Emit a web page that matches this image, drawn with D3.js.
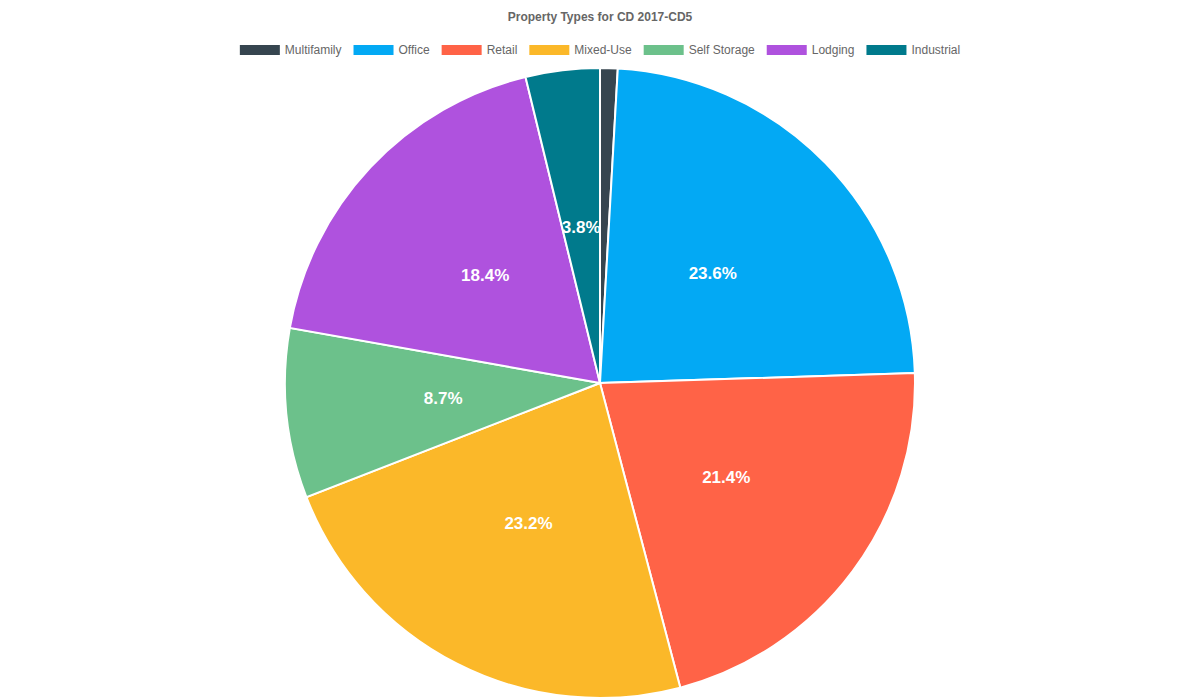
<!DOCTYPE html>
<style>
body {
  margin: 0;
  background: #fff;
}
svg {
  display: block;
  font-family: "Liberation Sans", Arial, Helvetica, sans-serif;
}
.title {
  font-size: 12px;
  font-weight: bold;
  fill: #666;
}
.legendText {
  font-size: 12px;
  fill: #666;
}
.sliceLabel {
  font-size: 17px;
  font-weight: bold;
  fill: #fff;
}
</style>
<svg width="1200" height="700"></svg>
<script src="https://d3js.org/d3.v7.min.js"></script>
<script>

var categories = ["Multifamily", "Office", "Retail", "Mixed-Use", "Self Storage", "Lodging", "Industrial"];
var shares = [0.9, 23.6, 21.4, 23.2, 8.7, 18.4, 3.8];
var colors = ["#36454f", "#03a9f4", "#ff6347", "#fbb829", "#6cc18b", "#af52de", "#007a8c"];
var title = "Property Types for CD 2017-CD5";

var svg = d3.select("svg"),
    middle = { x: 600, y: 383 },
    radius = 315;

svg.append("text")
  .attr("class", "title")
  .attr("x", 600)
  .attr("y", 21)
  .attr("text-anchor", "middle")
  .text(title);

// legend: measure each label, then centre the whole row
var legend = svg.append("g");
var items = categories.map((c, i) => {
  var t = legend.append("text")
    .attr("class", "legendText")
    .attr("y", 54)
    .text(c);
  return { text: t, width: 40 + 5 + t.node().getComputedTextLength(), i: i };
});
var gap = 12;
var total = d3.sum(items, d => d.width) + gap * (items.length - 1);
var x = 600 - total / 2;
items.forEach(d => {
  legend.append("rect")
    .attr("x", x)
    .attr("y", 45)
    .attr("width", 40)
    .attr("height", 10)
    .attr("fill", colors[d.i]);
  d.text.attr("x", x + 45);
  x += d.width + gap;
});

var pie = d3.pie().sort(null).value(d => d)(shares);
var arc = d3.arc().innerRadius(0).outerRadius(radius);
var labelArc = d3.arc().innerRadius(radius / 2).outerRadius(radius / 2);

var g = svg.append("g").attr("transform", `translate(${middle.x},${middle.y})`);

g.selectAll("path")
  .data(pie)
  .join("path")
  .attr("d", arc)
  .attr("fill", (d, i) => colors[i])
  .attr("stroke", "#fff")
  .attr("stroke-width", 2);

g.selectAll(".sliceLabel")
  .data(pie.filter(d => d.data >= 2))
  .join("text")
  .attr("class", "sliceLabel")
  .attr("transform", d => `translate(${labelArc.centroid(d)})`)
  .attr("text-anchor", "middle")
  .attr("dy", "0.35em")
  .text(d => d.data.toFixed(1) + "%");
</script>
